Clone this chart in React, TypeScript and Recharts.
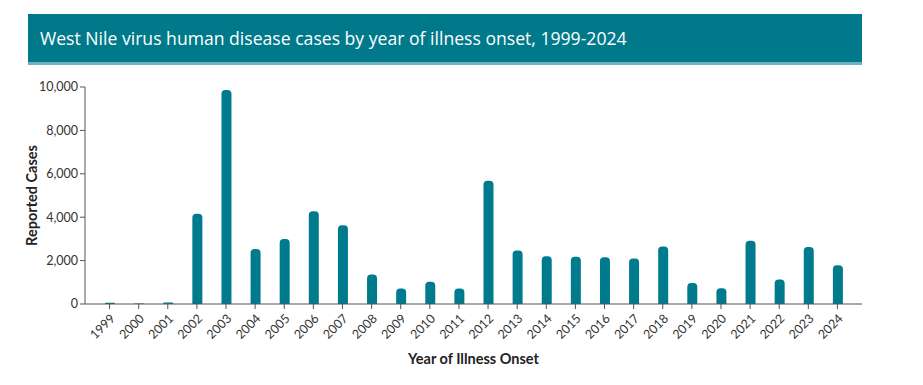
import { Bar, BarChart, XAxis, YAxis } from "recharts";

const anos = [
  "1999", "2000", "2001", "2002", "2003", "2004", "2005", "2006", "2007",
  "2008", "2009", "2010", "2011", "2012", "2013", "2014", "2015", "2016",
  "2017", "2018", "2019", "2020", "2021", "2022", "2023", "2024",
];

const casos = [
  62, 21, 66, 4156, 9862, 2539, 3000, 4269, 3630, 1356, 720, 1021, 712,
  5674, 2469, 2205, 2175, 2149, 2097, 2647, 971, 731, 2911, 1126, 2629, 1791,
];

const ticksY = [0, 2000, 4000, 6000, 8000, 10000];

const dados = anos.map((ano, i) => ({ ano, casos: casos[i] }));

const corBarra = "#007b8e";
const fonteEixo = "Lato, 'Open Sans', sans-serif";

export default function App() {
  return (
    <div style={{ position: "relative", width: 923, height: 385, margin: -8, background: "#fff" }}>
      {/* faixa do título — é HTML comum, não parte do gráfico */}
      <div
        style={{
          position: "absolute",
          left: 28,
          top: 14,
          width: 822,
          height: 48,
          background: "#00798b",
          borderBottom: "3px solid #6fb3bf",
          color: "#fff",
          fontFamily: "'Open Sans', sans-serif",
          fontWeight: 500,
          fontSize: 17.6,
          lineHeight: "48px",
          paddingLeft: 12,
          whiteSpace: "nowrap",
        }}
      >
        West Nile virus human disease cases by year of illness onset, 1999-2024
      </div>
      <div style={{ position: "absolute", left: 0, top: 1 }}>
        <BarChart
          width={923}
          height={385}
          data={dados}
          margin={{ top: 86, right: 61, left: 25, bottom: 20 }}
        >
          <XAxis
            dataKey="ano"
            stroke="#555"
            tickLine={{ stroke: "#555" }}
            tickSize={5}
            interval={0}
            height={62}
            padding={{ left: 10, right: 10 }}
            tick={{ fill: "#333", fontSize: 12.5, fontFamily: fonteEixo, angle: -45, textAnchor: "end", dy: 2 } as any}
            label={{
              value: "Year of Illness Onset",
              position: "insideBottom",
              offset: 2,
              style: { fill: "#222", fontWeight: 700, fontSize: 14.5, fontFamily: fonteEixo },
            }}
          />
          <YAxis
            width={60}
            stroke="#555"
            domain={[0, 10000]}
            ticks={ticksY}
            tickSize={5}
            tickFormatter={(v: number) => v.toLocaleString("en-US")}
            tick={{ fill: "#333", fontSize: 12.5, fontFamily: fonteEixo }}
            label={{
              value: "Reported Cases",
              angle: -90,
              position: "insideLeft",
              offset: 7,
              style: { textAnchor: "middle", fill: "#222", fontWeight: 700, fontSize: 14.5, fontFamily: fonteEixo },
            }}
          />
          <Bar dataKey="casos" fill={corBarra} barSize={10} radius={[4, 4, 0, 0]} isAnimationActive={false} />
        </BarChart>
      </div>
    </div>
  );
}
